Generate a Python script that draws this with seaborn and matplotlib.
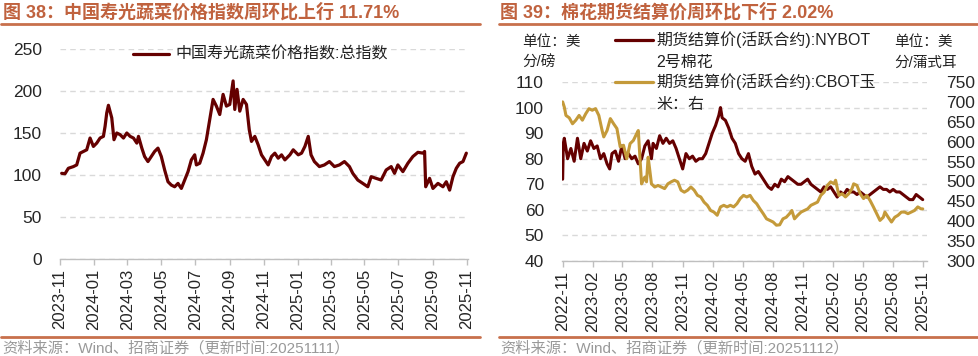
import numpy as np
import pandas as pd
import matplotlib
matplotlib.use('Agg')
import matplotlib.pyplot as plt
import seaborn as sns
from matplotlib.lines import Line2D

# ---------------- data ----------------
veg_base = '2023-11-01'
veg_days = [3, 9, 15, 24, 30, 36, 42, 48, 54, 60,
            66, 72, 78, 81, 84, 87, 93, 97, 102, 108,
            114, 120, 126, 132, 138, 141, 147, 152, 158, 164,
            170, 176, 182, 188, 194, 200, 206, 212, 218, 224,
            230, 236, 242, 245, 251, 257, 263, 269, 275, 281,
            287, 293, 299, 305, 311, 314, 318, 323, 329, 335,
            340, 344, 350, 356, 362, 368, 374, 380, 386, 392,
            398, 404, 413, 419, 428, 434, 440, 446, 451, 457,
            466, 475, 484, 493, 502, 511, 520, 526, 535, 544,
            553, 559, 568, 577, 586, 595, 601, 607, 616, 625,
            634, 643, 652, 655, 657, 664, 670, 679, 688, 694,
            700, 706, 712, 718, 724, 730]
veg_index = [102, 101.5, 108, 110, 112, 126, 128, 130, 144, 134,
             138, 144, 146, 158, 174, 183, 168, 142, 150, 148,
             144, 150, 146, 144, 138, 146, 132, 122, 116, 122,
             128, 132, 122, 106, 92, 88, 86, 90, 84, 94,
             104, 118, 124, 112, 114, 126, 142, 166, 190, 182,
             172, 196, 182, 184, 212, 178, 202, 176, 190, 184,
             154, 140, 146, 136, 124, 118, 112, 122, 126, 120,
             124, 118, 124, 130, 124, 126, 134, 146, 124, 116,
             110, 112, 116, 110, 112, 116, 110, 102, 94, 90,
             86, 98, 96, 94, 106, 110, 102, 112, 104, 114,
             122, 127, 126, 128, 86, 96, 84, 90, 86, 92,
             82, 98, 108, 114, 116, 126]
veg_ticks = ['2023-11', '2024-01', '2024-03', '2024-05', '2024-07', '2024-09',
             '2024-11', '2025-01', '2025-03', '2025-05', '2025-07', '2025-09', '2025-11']
veg_yticks = [0, 50, 100, 150, 200, 250]

fut_base = '2022-11-01'
cotton_days = [0, 2, 5, 15, 25, 35, 45, 55, 65, 75, 85, 95, 105, 115, 125, 135, 143, 150,
               160, 170, 180, 190, 200, 210, 220, 230, 240, 250, 260, 270, 275, 285, 295,
               305, 315, 325, 335, 345, 355, 365, 375, 385, 395, 405, 415, 425, 435, 445,
               455, 465, 475, 480, 485, 495, 505, 515, 525, 535, 545, 555, 565, 575, 585,
               595, 605, 615, 625, 635, 645, 655, 665, 675, 685, 695, 705, 715, 725, 735,
               745, 755, 765, 775, 785, 795, 805, 815, 825, 835, 845, 855, 865, 875, 885,
               895, 905, 915, 925, 935, 945, 955, 965, 975, 985, 995, 1005, 1015, 1025,
               1035, 1045, 1055, 1065, 1075, 1085, 1095]
cotton_price = [72, 86, 88, 80, 84, 79, 88, 80, 86, 83, 87, 84, 85, 80, 82, 78, 76, 82,
                83, 79, 85, 80, 82, 80, 81, 78, 80, 85, 87, 80, 86, 84, 89,
                86, 88, 86, 87, 84, 80, 76, 82, 80, 81, 79, 80, 80, 82, 86,
                90, 93, 97, 100, 96, 95, 92, 88, 86, 82, 80, 79, 82, 77, 74,
                75, 73, 71, 69, 68, 70, 69, 72, 71, 73, 72, 71, 70, 70, 71,
                72, 70, 69, 68, 67, 69, 68, 69, 67, 65, 67, 66, 68, 67, 67,
                66, 67, 66, 65, 66, 67, 68, 69, 68, 68, 67, 68, 67, 67,
                66, 65, 64, 64, 66, 65, 64]
corn_days = [0, 5, 10, 20, 30, 40, 50, 60, 70, 80, 90, 100, 110, 120, 125, 135, 145, 155,
             165, 175, 185, 195, 205, 215, 225, 230, 235, 240, 245, 250, 255, 260, 265,
             270, 280, 290, 300, 310, 320, 330, 340, 350, 360, 370, 380, 390, 400, 410,
             420, 430, 440, 450, 460, 470, 480, 490, 500, 510, 520, 530, 540, 550, 560,
             570, 580, 590, 600, 610, 620, 630, 640, 650, 660, 670, 680, 690, 697, 705,
             715, 725, 735, 745, 755, 765, 775, 785, 795, 805, 815, 825, 830, 840, 850,
             860, 870, 880, 885, 895, 905, 915, 925, 935, 945, 955, 965, 975, 980, 990,
             1000, 1010, 1020, 1030, 1040, 1050, 1060, 1070, 1080, 1090, 1095]
corn_price = [700, 687, 666, 660, 645, 654, 666, 654, 670, 683, 679, 683, 666, 628, 612, 628, 658, 645,
              633, 587, 591, 557, 595, 603, 620, 628, 560, 494, 503, 511, 499, 561, 528,
              494, 486, 490, 486, 482, 494, 499, 503, 499, 478, 473, 478, 486, 478, 465,
              461, 448, 440, 427, 423, 415, 436, 440, 436, 440, 436, 444, 457, 465, 461,
              465, 452, 444, 431, 419, 406, 402, 398, 390, 391, 406, 410, 419, 427, 406,
              415, 423, 427, 431, 440, 444, 448, 465, 473, 490, 499, 494, 503, 465, 469,
              461, 469, 482, 494, 490, 469, 457, 465, 452, 436, 419, 402, 410, 423, 410,
              398, 410, 415, 423, 423, 419, 423, 427, 436, 431, 431]
fut_ticks = ['2022-11', '2023-02', '2023-05', '2023-08', '2023-11', '2024-02', '2024-05',
             '2024-08', '2024-11', '2025-02', '2025-05', '2025-08', '2025-11']
cotton_yticks = [40, 50, 60, 70, 80, 90, 100, 110]
corn_yticks = [300, 350, 400, 450, 500, 550, 600, 650, 700, 750]

# ---------------- style ----------------
sns.set_theme(style='white')
plt.rcParams['font.family'] = ['Liberation Sans', 'Noto Sans CJK SC']
plt.rcParams['axes.unicode_minus'] = False

MAROON = '#650000'
GOLD = '#C49A3A'
TITLE_C = '#C0623E'
RULE_C = '#C8704C'
GRID_C = '#D9D9D9'
AXIS_C = '#BFBFBF'

W, H = 979, 356
fig = plt.figure(figsize=(W / 100, H / 100), dpi=100)


def fx(x):
    return x / W


def fy(y):
    return 1 - y / H


def rect(x0, x1, ytop, ybot):
    return [fx(x0), fy(ybot), fx(x1) - fx(x0), (ybot - ytop) / H]


def style_axes(ax):
    for s in ['left', 'right', 'top']:
        ax.spines[s].set_visible(False)
    ax.spines['bottom'].set_color(AXIS_C)
    ax.spines['bottom'].set_linewidth(1)
    ax.yaxis.grid(True, linestyle=(0, (4, 3)), color=GRID_C, linewidth=1)
    ax.xaxis.grid(False)
    ax.tick_params(axis='x', length=4, width=1, color=AXIS_C, direction='out',
                   labelsize=12, pad=3, bottom=True)
    ax.tick_params(axis='y', length=0, labelsize=12.5, pad=13)
    ax.set_xlabel('')
    ax.set_ylabel('')


# ---------------- left chart ----------------
ax1 = fig.add_axes(rect(60, 468, 49, 259))
veg_dates = pd.Timestamp(veg_base) + pd.to_timedelta(veg_days, unit='D')
veg_df = pd.DataFrame({'date': veg_dates, 'value': veg_index})
sns.lineplot(data=veg_df, x='date', y='value', ax=ax1, color=MAROON, linewidth=2.3,
             legend=False, estimator=None)
ax1.set_ylim(0, 250)
ax1.set_xlim(pd.Timestamp('2023-11-01'), pd.Timestamp('2025-11-03'))
ax1.set_yticks(veg_yticks)
ax1.set_xticks(pd.to_datetime(veg_ticks))
ax1.set_xticklabels(veg_ticks, rotation=90)
style_axes(ax1)

# left legend
fig.add_artist(Line2D([fx(133), fx(169)], [fy(54), fy(54)], color=MAROON, lw=2.3))
fig.text(fx(175), fy(54), '中国寿光蔬菜价格指数:总指数', fontsize=11.5, color='#222222',
         va='center', ha='left')

# ---------------- right chart ----------------
ax2 = fig.add_axes(rect(562, 927, 82, 261))
cot_dates = pd.Timestamp(fut_base) + pd.to_timedelta(cotton_days, unit='D')
corn_dates = pd.Timestamp(fut_base) + pd.to_timedelta(corn_days, unit='D')
cot_df = pd.DataFrame({'date': cot_dates, 'price': cotton_price})
corn_df = pd.DataFrame({'date': corn_dates, 'price': corn_price})
sns.lineplot(data=cot_df, x='date', y='price', ax=ax2, color=MAROON, linewidth=2.2,
             legend=False, estimator=None)
ax2.set_ylim(40, 110)
ax2.set_yticks(cotton_yticks)
ax2.set_xlim(pd.Timestamp('2022-10-30'), pd.Timestamp('2025-11-13'))
ax2.set_xticks(pd.to_datetime(fut_ticks))
ax2.set_xticklabels(fut_ticks, rotation=90)
style_axes(ax2)

ax3 = ax2.twinx()
sns.lineplot(data=corn_df, x='date', y='price', ax=ax3, color=GOLD, linewidth=2.2,
             legend=False, estimator=None)
ax3.set_ylim(300, 750)
ax3.set_yticks(corn_yticks)
ax3.set_xlim(pd.Timestamp('2022-10-30'), pd.Timestamp('2025-11-13'))
for s in ['left', 'right', 'top', 'bottom']:
    ax3.spines[s].set_visible(False)
ax3.grid(False)
ax3.tick_params(axis='y', length=0, labelsize=12.5, pad=14)
ax3.set_ylabel('')
ax3.set_xlabel('')

# unit labels
fig.text(fx(522), fy(42), '单位：美', fontsize=10.5, color='#222222', va='center')
fig.text(fx(522), fy(63), '分/磅', fontsize=10.5, color='#222222', va='center')
fig.text(fx(894), fy(42), '单位：美', fontsize=10.5, color='#222222', va='center')
fig.text(fx(894), fy(63), '分/蒲式耳', fontsize=10.5, color='#222222', va='center')

# right legend
fig.add_artist(Line2D([fx(615), fx(653)], [fy(40), fy(40)], color=MAROON, lw=2.3))
fig.text(fx(656), fy(40), '期货结算价(活跃合约):NYBOT', fontsize=11.5, color='#222222', va='center')
fig.text(fx(656), fy(62), '2号棉花', fontsize=11.5, color='#222222', va='center')
fig.add_artist(Line2D([fx(615), fx(653)], [fy(82), fy(82)], color=GOLD, lw=2.3))
fig.text(fx(656), fy(82), '期货结算价(活跃合约):CBOT玉', fontsize=11.5, color='#222222', va='center')
fig.text(fx(656), fy(104), '米：右', fontsize=11.5, color='#222222', va='center')

# ---------------- titles, rules, sources ----------------
fig.text(fx(3), fy(12), '图 38：中国寿光蔬菜价格指数周环比上行 11.71%', fontsize=13,
         color=TITLE_C, va='center', ha='left', fontweight='bold')
fig.text(fx(500), fy(12), '图 39：棉花期货结算价周环比下行 2.02%', fontsize=13,
         color=TITLE_C, va='center', ha='left', fontweight='bold')
fig.add_artist(Line2D([fx(1), fx(480)], [fy(24), fy(24)], color=RULE_C, lw=2))
fig.add_artist(Line2D([fx(499), fx(978)], [fy(24), fy(24)], color=RULE_C, lw=2))
fig.add_artist(Line2D([fx(1), fx(480)], [fy(337), fy(337)], color=RULE_C, lw=2))
fig.add_artist(Line2D([fx(499), fx(978)], [fy(337), fy(337)], color=RULE_C, lw=2))
fig.text(fx(2), fy(348), '资料来源：Wind、招商证券（更新时间:20251111）', fontsize=11,
         color='#999999', va='center', ha='left')
fig.text(fx(500), fy(348), '资料来源：Wind、招商证券（更新时间:20251112）', fontsize=11,
         color='#999999', va='center', ha='left')

fig.savefig('out.png', dpi=100)
